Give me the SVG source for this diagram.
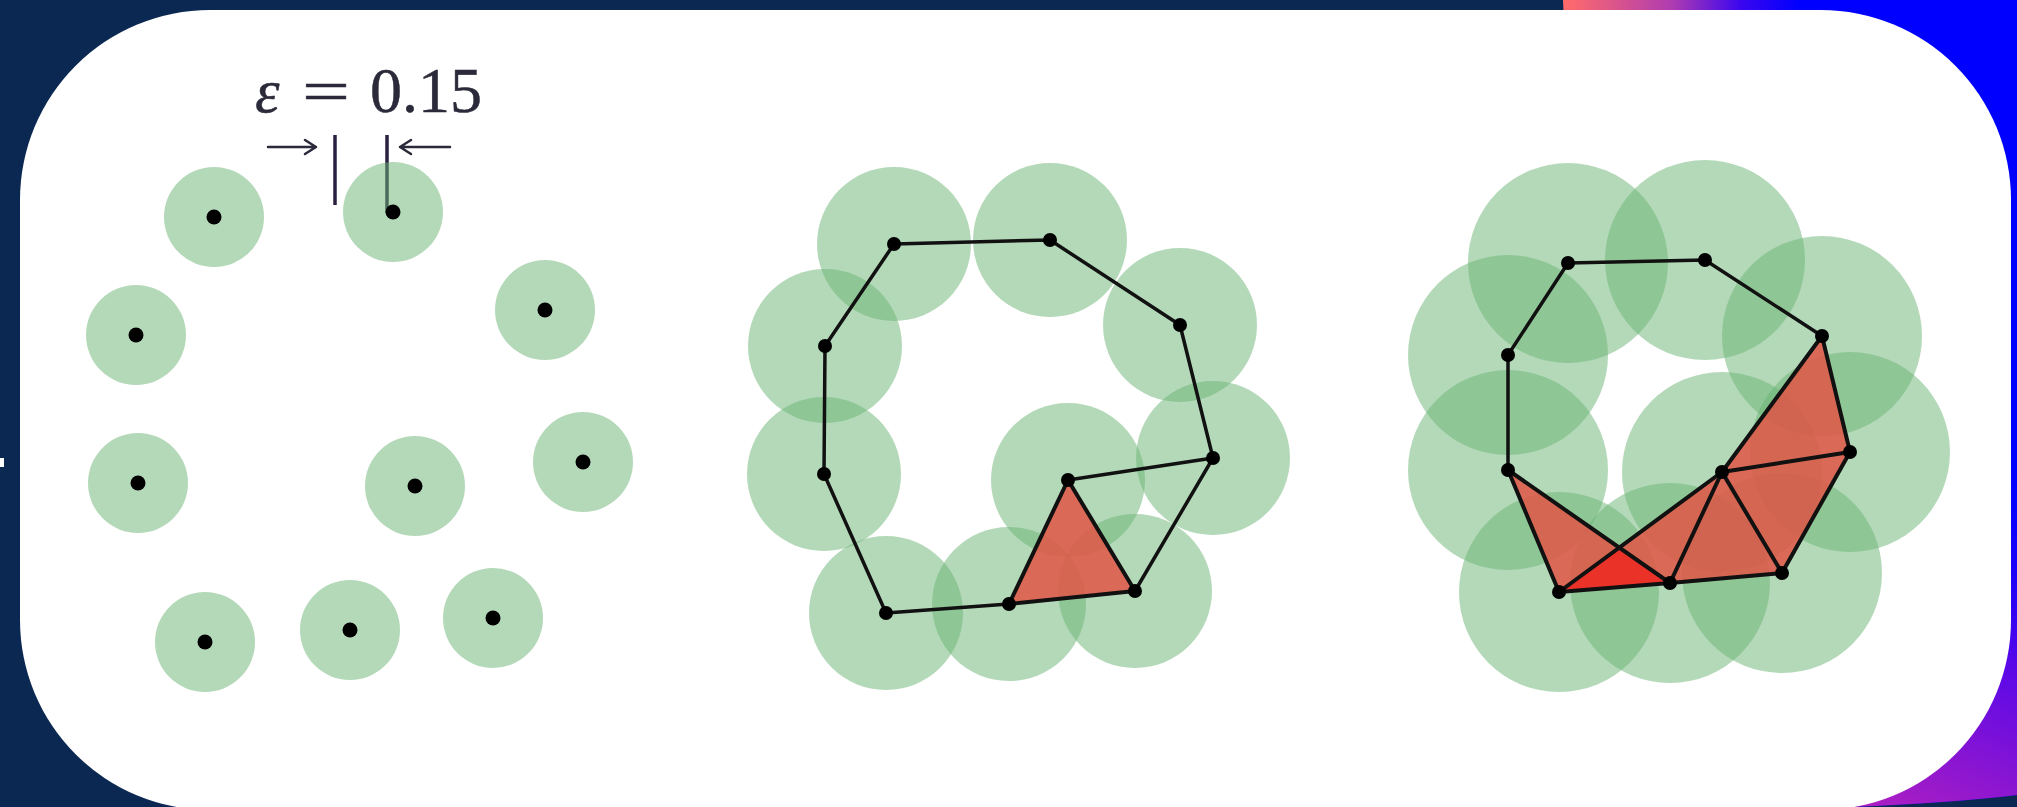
<svg xmlns="http://www.w3.org/2000/svg" width="2017" height="807" viewBox="0 0 2017 807">
<style>
.disk{fill:#69b373;fill-opacity:0.5}
.pt{fill:#000}
.edge{fill:none;stroke:#111;stroke-width:3.5;stroke-linecap:round;stroke-linejoin:round}
.tedge{fill:none;stroke:#111;stroke-width:4;stroke-linecap:round;stroke-linejoin:round}
.tri{fill:#e15546;fill-opacity:0.85}
.ovl{fill:#ea3228}
.ink{stroke:#2a2a3a;stroke-width:2.5;fill:none;stroke-linecap:round;stroke-linejoin:round}
.lbl{font-family:"Liberation Serif","Times New Roman",serif;fill:#2a2a3a;stroke:#2a2a3a;stroke-width:0.5}
</style>
<defs>
<linearGradient id="gTop" gradientUnits="userSpaceOnUse" x1="1566" y1="0" x2="1800" y2="0">
<stop offset="0" stop-color="#ff6b6b"/>
<stop offset="0.45" stop-color="#b03cb0"/>
<stop offset="0.75" stop-color="#3a06f0"/>
<stop offset="1" stop-color="#0000ff"/>
</linearGradient>
<linearGradient id="gBot" gradientUnits="userSpaceOnUse" x1="2017" y1="450" x2="1850" y2="807">
<stop offset="0" stop-color="#0000ff" stop-opacity="0"/>
<stop offset="0.5" stop-color="#5a08e8"/>
<stop offset="1" stop-color="#b020c0"/>
</linearGradient>
</defs>
<g id="background">
<rect x="0" y="0" width="2017" height="807" fill="#0b2852"/>
<path d="M1563,0 L2017,0 L2017,795 Q1950,803 1850,807 L1600,807 Z" fill="url(#gTop)"/>
<path d="M1563,400 L2017,400 L2017,795 Q1950,803 1850,807 L1600,807 Z" fill="url(#gBot)"/>
<rect x="20" y="10" width="1991" height="800" rx="190" ry="190" fill="#ffffff"/>
<rect x="0" y="458" width="4" height="9" fill="#ffffff"/>
</g>
<g id="panel1">
<g id="p1-label">
<text class="lbl" x="255" y="112" font-size="62" font-style="italic">ε</text>
<text class="lbl" x="302" y="112" font-size="62" textLength="48" lengthAdjust="spacingAndGlyphs">=</text>
<text class="lbl" x="370" y="112" font-size="64">0.15</text>
<path class="ink" d="M268,147 L316,147 M305,140 L316,147 L305,154"/>
<path class="ink" d="M400,147 L450,147 M411,140 L400,147 L411,154"/>
<line x1="335" y1="135" x2="335" y2="205" stroke="#2a2040" stroke-width="3.5"/>
<line x1="387" y1="135" x2="387" y2="213" stroke="#2a2040" stroke-width="3.5"/>
</g>
<g id="p1-n1"><circle class="disk" cx="214" cy="217" r="50"/><circle class="pt" cx="214" cy="217" r="7.5"/></g>
<g id="p1-n2"><circle class="disk" cx="393" cy="212" r="50"/><circle class="pt" cx="393" cy="212" r="7.5"/></g>
<g id="p1-n3"><circle class="disk" cx="545" cy="310" r="50"/><circle class="pt" cx="545" cy="310" r="7.5"/></g>
<g id="p1-n4"><circle class="disk" cx="136" cy="335" r="50"/><circle class="pt" cx="136" cy="335" r="7.5"/></g>
<g id="p1-n5"><circle class="disk" cx="138" cy="483" r="50"/><circle class="pt" cx="138" cy="483" r="7.5"/></g>
<g id="p1-n6"><circle class="disk" cx="415" cy="486" r="50"/><circle class="pt" cx="415" cy="486" r="7.5"/></g>
<g id="p1-n7"><circle class="disk" cx="583" cy="462" r="50"/><circle class="pt" cx="583" cy="462" r="7.5"/></g>
<g id="p1-n8"><circle class="disk" cx="205" cy="642" r="50"/><circle class="pt" cx="205" cy="642" r="7.5"/></g>
<g id="p1-n9"><circle class="disk" cx="350" cy="630" r="50"/><circle class="pt" cx="350" cy="630" r="7.5"/></g>
<g id="p1-n10"><circle class="disk" cx="493" cy="618" r="50"/><circle class="pt" cx="493" cy="618" r="7.5"/></g>
</g>
<g id="panel2">
<g id="p2-disks">
<circle class="disk" cx="894" cy="244" r="77"/>
<circle class="disk" cx="1050" cy="240" r="77"/>
<circle class="disk" cx="1180" cy="325" r="77"/>
<circle class="disk" cx="1213" cy="458" r="77"/>
<circle class="disk" cx="1068" cy="480" r="77"/>
<circle class="disk" cx="1135" cy="591" r="77"/>
<circle class="disk" cx="1009" cy="604" r="77"/>
<circle class="disk" cx="886" cy="613" r="77"/>
<circle class="disk" cx="824" cy="474" r="77"/>
<circle class="disk" cx="825" cy="346" r="77"/>
</g>
<g id="p2-connectors">
<polygon class="tri" points="1068,480 1135,591 1009,604"/>
<path class="edge" d="M894,244 L1050,240 L1180,325 L1213,458 L1135,591 M1009,604 L886,613 L824,474 L825,346 L894,244 M1213,458 L1068,480"/>
<path class="tedge" d="M1068,480 L1135,591 L1009,604 Z"/>
</g>
<g id="p2-nA"><circle class="pt" cx="894" cy="244" r="7"/></g>
<g id="p2-nB"><circle class="pt" cx="1050" cy="240" r="7"/></g>
<g id="p2-nC"><circle class="pt" cx="1180" cy="325" r="7"/></g>
<g id="p2-nD"><circle class="pt" cx="1213" cy="458" r="7"/></g>
<g id="p2-nE"><circle class="pt" cx="1068" cy="480" r="7"/></g>
<g id="p2-nF"><circle class="pt" cx="1135" cy="591" r="7"/></g>
<g id="p2-nG"><circle class="pt" cx="1009" cy="604" r="7"/></g>
<g id="p2-nH"><circle class="pt" cx="886" cy="613" r="7"/></g>
<g id="p2-nI"><circle class="pt" cx="824" cy="474" r="7"/></g>
<g id="p2-nJ"><circle class="pt" cx="825" cy="346" r="7"/></g>
</g>
<g id="panel3">
<g id="p3-disks">
<circle class="disk" cx="1568" cy="263" r="100"/>
<circle class="disk" cx="1705" cy="260" r="100"/>
<circle class="disk" cx="1822" cy="336" r="100"/>
<circle class="disk" cx="1850" cy="452" r="100"/>
<circle class="disk" cx="1722" cy="472" r="100"/>
<circle class="disk" cx="1782" cy="573" r="100"/>
<circle class="disk" cx="1670" cy="583" r="100"/>
<circle class="disk" cx="1559" cy="592" r="100"/>
<circle class="disk" cx="1508" cy="470" r="100"/>
<circle class="disk" cx="1508" cy="355" r="100"/>
</g>
<g id="p3-connectors">
<polygon class="tri" points="1822,336 1850,452 1722,472"/>
<polygon class="tri" points="1850,452 1722,472 1782,573"/>
<polygon class="tri" points="1722,472 1782,573 1670,583"/>
<polygon class="tri" points="1559,592 1670,583 1722,472"/>
<polygon class="tri" points="1508,470 1559,592 1670,583"/>
<polygon class="ovl" points="1559,592 1670,583 1619,548"/>
<path class="edge" d="M1822,336 L1705,260 L1568,263 L1508,355 L1508,470"/>
<path class="tedge" d="M1822,336 L1850,452 L1782,573 L1670,583 L1559,592 L1508,470 L1670,583 M1822,336 L1722,472 L1850,452 M1722,472 L1782,573 M1722,472 L1670,583 M1722,472 L1559,592"/>
</g>
<g id="p3-nA"><circle class="pt" cx="1568" cy="263" r="7"/></g>
<g id="p3-nB"><circle class="pt" cx="1705" cy="260" r="7"/></g>
<g id="p3-nC"><circle class="pt" cx="1822" cy="336" r="7"/></g>
<g id="p3-nD"><circle class="pt" cx="1850" cy="452" r="7"/></g>
<g id="p3-nE"><circle class="pt" cx="1722" cy="472" r="7"/></g>
<g id="p3-nF"><circle class="pt" cx="1782" cy="573" r="7"/></g>
<g id="p3-nG"><circle class="pt" cx="1670" cy="583" r="7"/></g>
<g id="p3-nH"><circle class="pt" cx="1559" cy="592" r="7"/></g>
<g id="p3-nI"><circle class="pt" cx="1508" cy="470" r="7"/></g>
<g id="p3-nJ"><circle class="pt" cx="1508" cy="355" r="7"/></g>
</g>
</svg>
